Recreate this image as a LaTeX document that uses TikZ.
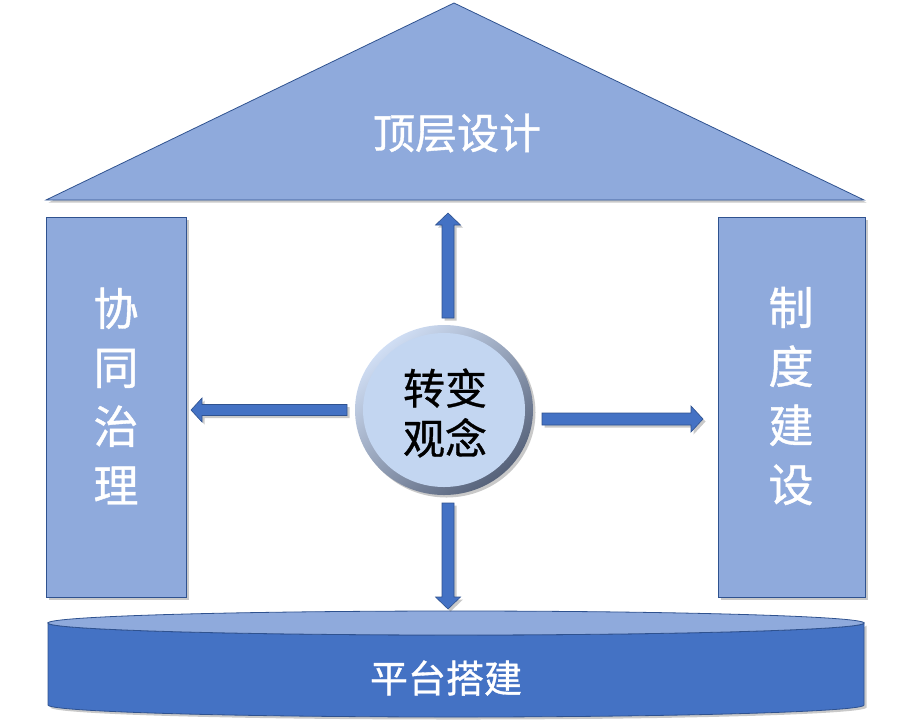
\documentclass[tikz,border=0pt]{standalone}
\usepackage{fontspec}
\setmainfont{Noto Sans CJK SC}[FakeBold=0.9,AutoFakeBold=0.9]
\usetikzlibrary{calc,shadows}
\definecolor{lightblue}{HTML}{8FAADC}
\definecolor{midblue}{HTML}{4472C4}
\definecolor{edgeblue}{HTML}{2F528F}
\definecolor{corefill}{HTML}{C3D6F1}
\definecolor{rimlight}{HTML}{D0DEF4}
\definecolor{rimdark}{HTML}{56627A}
\tikzset{
  softshadow/.style={drop shadow={shadow xshift=2.5pt,shadow yshift=-2.5pt,opacity=0.3,fill=black!70}},
  panel/.style={fill=lightblue,draw=edgeblue,line width=0.8pt},
  fatarrow/.style={fill=midblue,draw=edgeblue,line width=0.6pt,softshadow},
  whitetext/.style={text=white,inner sep=0pt},
  bigtext/.style={font=\fontsize{42}{50}\selectfont\bfseries},
  vtext/.style={whitetext,align=center,font=\fontsize{45}{59}\selectfont\bfseries},
}
\begin{document}
\begin{tikzpicture}[x=1pt,y=-1pt]
\useasboundingbox (0,0) rectangle (909,724);
% roof
\path[panel,softshadow] (454,3) -- (864,200) -- (46,200) -- cycle;
\node[whitetext,bigtext] (roof) at (457,133) {顶层设计};
% pillars
\path[panel,softshadow] (46,217) rectangle (186,597);
\node[vtext] (left) at (116,396) {协\\同\\治\\理};
\path[panel,softshadow] (718,217) rectangle (865,597);
\node[vtext] (right) at (791,396) {制\\度\\建\\设};
% base cylinder
\path[fill=midblue,draw=edgeblue,line width=0.8pt,softshadow]
  (48,623) -- (48,705) arc[start angle=180,end angle=360,x radius=408pt,y radius=12pt]
  -- (864,623) arc[start angle=0,end angle=-180,x radius=408pt,y radius=12pt] -- cycle;
\path[fill=lightblue,draw=edgeblue,line width=0.8pt] (456,623) ellipse[x radius=408pt,y radius=12pt];
\node[whitetext,font=\fontsize{38}{44}\selectfont\bfseries] (base) at (446,678) {平台搭建};
% arrow end coordinates
\coordinate (upS) at (448,318);   \coordinate (upT) at (448,213);
\coordinate (dnS) at (448,503);   \coordinate (dnT) at (448,609);
\coordinate (lfS) at (347,410);   \coordinate (lfT) at (191,410);
\coordinate (rtS) at (542,419);   \coordinate (rtT) at (703,419);
% arrows
\path[fatarrow] ($(upS)+(-6,0)$) -- ($(upT)+(-6,12)$) -- ($(upT)+(-12.5,12)$) -- (upT)
  -- ($(upT)+(12.5,12)$) -- ($(upT)+(6,12)$) -- ($(upS)+(6,0)$) -- cycle;
\path[fatarrow] ($(dnS)+(-6,0)$) -- ($(dnT)+(-6,-12)$) -- ($(dnT)+(-12.5,-12)$) -- (dnT)
  -- ($(dnT)+(12.5,-12)$) -- ($(dnT)+(6,-12)$) -- ($(dnS)+(6,0)$) -- cycle;
\path[fatarrow] ($(lfS)+(0,-5.5)$) -- ($(lfT)+(11,-5.5)$) -- ($(lfT)+(11,-12)$) -- (lfT)
  -- ($(lfT)+(11,12)$) -- ($(lfT)+(11,5.5)$) -- ($(lfS)+(0,5.5)$) -- cycle;
\path[fatarrow] ($(rtS)+(0,-6)$) -- ($(rtT)+(-12,-6)$) -- ($(rtT)+(-12,-13)$) -- (rtT)
  -- ($(rtT)+(-12,13)$) -- ($(rtT)+(-12,6)$) -- ($(rtS)+(0,6)$) -- cycle;
% central circle
\path[shading=axis,top color=rimlight,bottom color=rimdark,shading angle=40,softshadow]
  (444,410) ellipse[x radius=89pt,y radius=85pt];
\path[fill=corefill] (444,410) ellipse[x radius=81pt,y radius=77pt];
\node[inner sep=0pt,align=center,font=\fontsize{42}{50}\selectfont\bfseries,text=black] (core) at (445,413) {转变\\观念};
\end{tikzpicture}
\end{document}
